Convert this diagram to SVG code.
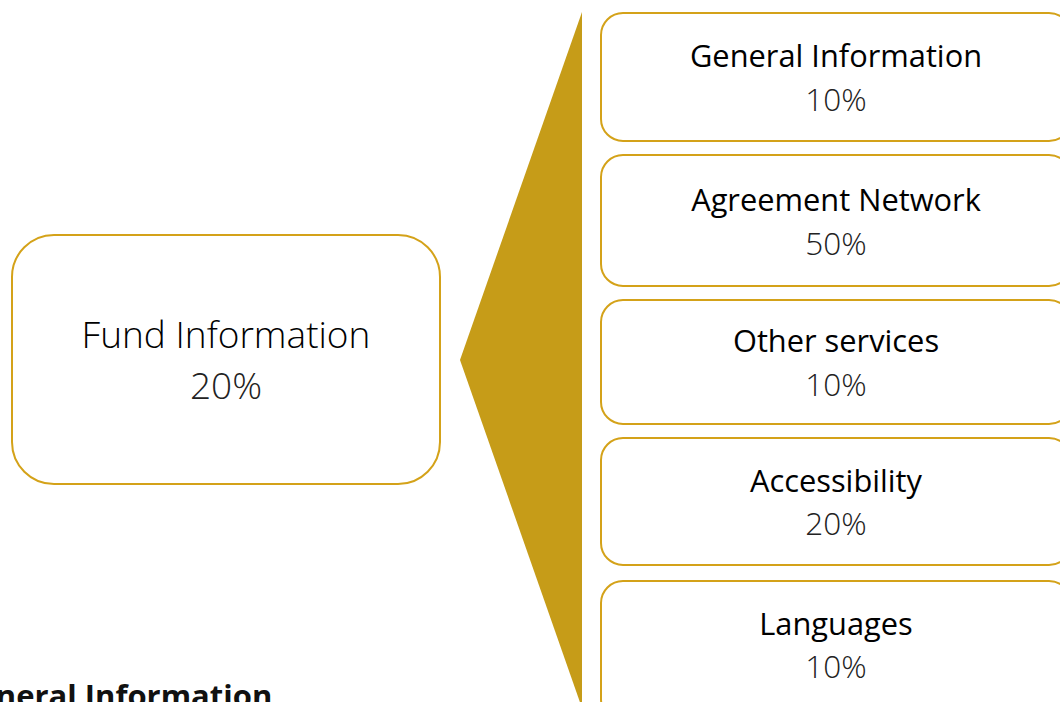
<svg xmlns="http://www.w3.org/2000/svg" width="1060" height="702" viewBox="0 0 1060 702">
<style>
.box{fill:#fff;stroke:#D4A219;stroke-width:2}
.t{font-family:"Open Sans","Liberation Sans",sans-serif;fill:#000;text-anchor:middle}
.h{font-size:30.8px;font-weight:400}
.p{font-size:31.5px;font-weight:300;fill:#222}
.hb{font-size:37px;font-weight:330}
.pb{font-size:37px;font-weight:300;fill:#222}
</style>
<rect width="1060" height="702" fill="#fff"/>
<g id="connectors">
<polygon points="460,360 582,12 582,708" fill="#C69C18"/>
</g>
<g id="fund">
<rect class="box" x="12" y="235" width="428" height="249" rx="42"/>
<text class="t hb" x="226" y="348">Fund Information</text>
<text class="t pb" x="226" y="399">20%</text>
</g>
<g id="general">
<rect class="box" x="601" y="13" width="470" height="128" rx="22"/>
<text class="t h" x="836" y="67">General Information</text>
<text class="t p" x="836" y="111">10%</text>
</g>
<g id="agreement">
<rect class="box" x="601" y="155" width="470" height="131" rx="22"/>
<text class="t h" x="836" y="211">Agreement Network</text>
<text class="t p" x="836" y="255">50%</text>
</g>
<g id="other">
<rect class="box" x="601" y="300" width="470" height="124" rx="22"/>
<text class="t h" x="836" y="352">Other services</text>
<text class="t p" x="836" y="396">10%</text>
</g>
<g id="access">
<rect class="box" x="601" y="438" width="470" height="127" rx="22"/>
<text class="t h" x="836" y="492">Accessibility</text>
<text class="t p" x="836" y="535">20%</text>
</g>
<g id="languages">
<rect class="box" x="601" y="581" width="470" height="140" rx="22"/>
<text class="t h" x="836" y="635">Languages</text>
<text class="t p" x="836" y="678">10%</text>
</g>
<text x="-45" y="707" font-family="'Open Sans','Liberation Sans',sans-serif" font-size="31" font-weight="700" fill="#111">General Information</text>
</svg>
